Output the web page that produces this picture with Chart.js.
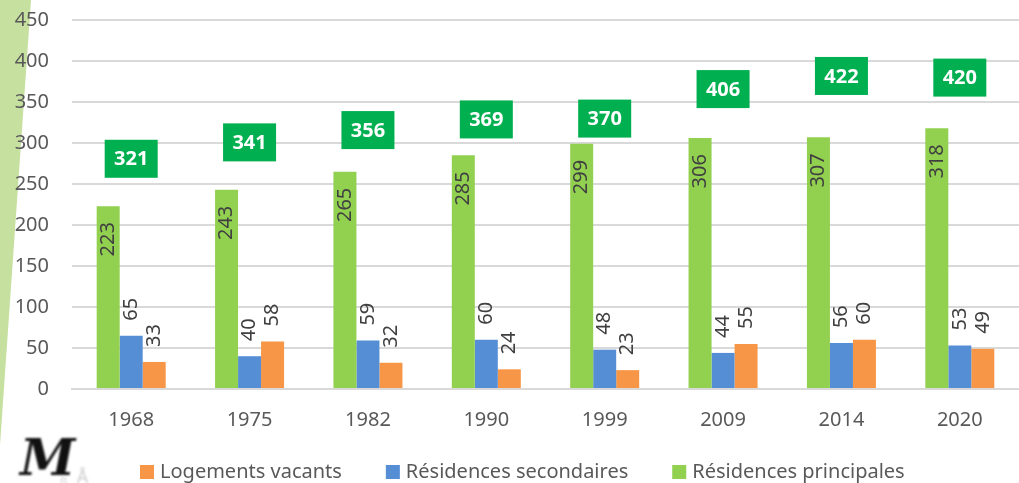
<!DOCTYPE html>
<html lang="fr">
<head>
<meta charset="utf-8">
<script src="https://cdn.jsdelivr.net/npm/chart.js@4.4.1/dist/chart.umd.min.js"></script>
<style>
    html, body { margin: 0; padding: 0; background: #fff; }
    #wrap { position: relative; width: 1019px; height: 483px; }
</style>
</head>
<body>
<div id="wrap"><canvas id="logementsChart" width="1019" height="483"></canvas></div>
<script>
const years = ['1968', '1975', '1982', '1990', '1999', '2009', '2014', '2020'];
const principales = [223, 243, 265, 285, 299, 306, 307, 318];
const secondaires = [65, 40, 59, 60, 48, 44, 56, 53];
const vacants = [33, 58, 32, 24, 23, 55, 60, 49];
const totals = [321, 341, 356, 369, 370, 406, 422, 420];
const yMax = 450;
const yStep = 50;

const FONT = "'Noto Sans', 'DejaVu Sans', sans-serif";

// fond : bande verte à gauche
const backdropPlugin = {
    id: 'backdrop',
    beforeDraw(chart) {
        const ctx = chart.ctx;
        ctx.save();
        ctx.fillStyle = '#c6e0a0';
        ctx.beginPath();
        ctx.moveTo(0, 0);
        ctx.lineTo(31, 0);
        ctx.lineTo(0, 445);
        ctx.closePath();
        ctx.fill();
        ctx.restore();
    }
};

// étiquettes verticales sur les barres
const barLabelsPlugin = {
    id: 'barLabels',
    afterDatasetsDraw(chart) {
        const ctx = chart.ctx;
        ctx.save();
        ctx.font = '20px ' + FONT;
        ctx.fillStyle = '#404040';
        ctx.textBaseline = 'middle';
        chart.data.datasets.forEach((ds, di) => {
            const meta = chart.getDatasetMeta(di);
            meta.data.forEach((bar, i) => {
                ctx.save();
                if (di === 0) {
                    ctx.translate(bar.x, bar.y + 16);
                    ctx.rotate(-Math.PI / 2);
                    ctx.textAlign = 'right';
                } else {
                    ctx.translate(bar.x, bar.y - 15);
                    ctx.rotate(-Math.PI / 2);
                    ctx.textAlign = 'left';
                }
                ctx.fillText(String(ds.data[i]), 0, 0);
                ctx.restore();
            });
        });
        ctx.restore();
    }
};

// totaux dans les cartouches verts
const totalsPlugin = {
    id: 'totals',
    afterDatasetsDraw(chart) {
        const ctx = chart.ctx;
        const x = chart.scales.x, y = chart.scales.y;
        ctx.save();
        ctx.font = 'bold 20px ' + FONT;
        ctx.textAlign = 'center';
        ctx.textBaseline = 'middle';
        totals.forEach((t, i) => {
            const cx = x.getPixelForValue(i);
            const cy = y.getPixelForValue(t) + 33;
            ctx.fillStyle = '#00b050';
            ctx.fillRect(cx - 26.5, cy - 19, 53, 38);
            ctx.fillStyle = '#ffffff';
            ctx.fillText(String(t), cx, cy + 1);
        });
        ctx.restore();
    }
};

// légende du bas + logo
const legendPlugin = {
    id: 'bottomLegend',
    afterDraw(chart) {
        const ctx = chart.ctx;
        ctx.save();
        ctx.font = '20px ' + FONT;
        ctx.textBaseline = 'middle';
        let lx = 140;
        const ly = 472;
        const items = chart.data.datasets.slice().reverse();
        items.forEach(ds => {
            ctx.fillStyle = ds.backgroundColor;
            ctx.fillRect(lx, ly - 7, 14, 14);
            ctx.fillStyle = '#595959';
            ctx.textAlign = 'left';
            ctx.fillText(ds.label, lx + 20, ly);
            lx += 20 + ctx.measureText(ds.label).width + 44;
        });

        // logo approximatif
        ctx.filter = 'blur(0.9px)';
        ctx.fillStyle = '#111';
        ctx.font = 'bold italic 50px "DejaVu Serif", serif';
        ctx.fillText('M', 20, 462);
        ctx.filter = 'blur(1.2px)';
        ctx.fillStyle = '#cfcfcf';
        ctx.font = '18px ' + FONT;
        ctx.fillText('ᵦ  Å', 60, 478);
        ctx.restore();
    }
};

const ctx = document.getElementById('logementsChart').getContext('2d');
new Chart(ctx, {
    type: 'bar',
    data: {
        labels: years,
        datasets: [
            {
                label: 'Résidences principales',
                data: principales,
                backgroundColor: '#92d050'
            },
            {
                label: 'Résidences secondaires',
                data: secondaires,
                backgroundColor: '#558ed5'
            },
            {
                label: 'Logements vacants',
                data: vacants,
                backgroundColor: '#f79646'
            }
        ]
    },
    options: {
        responsive: false,
        animation: false,
        layout: {
            padding: { top: 20, right: 0, bottom: 39, left: 0 }
        },
        datasets: {
            bar: {
                categoryPercentage: 0.583,
                barPercentage: 1
            }
        },
        scales: {
            x: {
                grid: { display: false, drawTicks: false },
                border: { display: true, color: '#d9d9d9', width: 2 },
                ticks: {
                    color: '#595959',
                    font: { family: FONT, size: 20 },
                    padding: 19
                },
                afterFit(scale) { scale.height = 55; }
            },
            y: {
                min: 0,
                max: yMax,
                border: { display: false },
                grid: { color: '#d9d9d9', lineWidth: 2, drawTicks: false },
                ticks: {
                    stepSize: yStep,
                    color: '#595959',
                    font: { family: FONT, size: 20 },
                    padding: 23
                },
                afterFit(scale) {
                    scale.width = 72;
                    scale.paddingTop = 0;
                    scale.paddingBottom = 0;
                }
            }
        },
        plugins: {
            legend: { display: false },
            tooltip: { enabled: false }
        }
    },
    plugins: [backdropPlugin, barLabelsPlugin, totalsPlugin, legendPlugin]
});
</script>
</body>
</html>
